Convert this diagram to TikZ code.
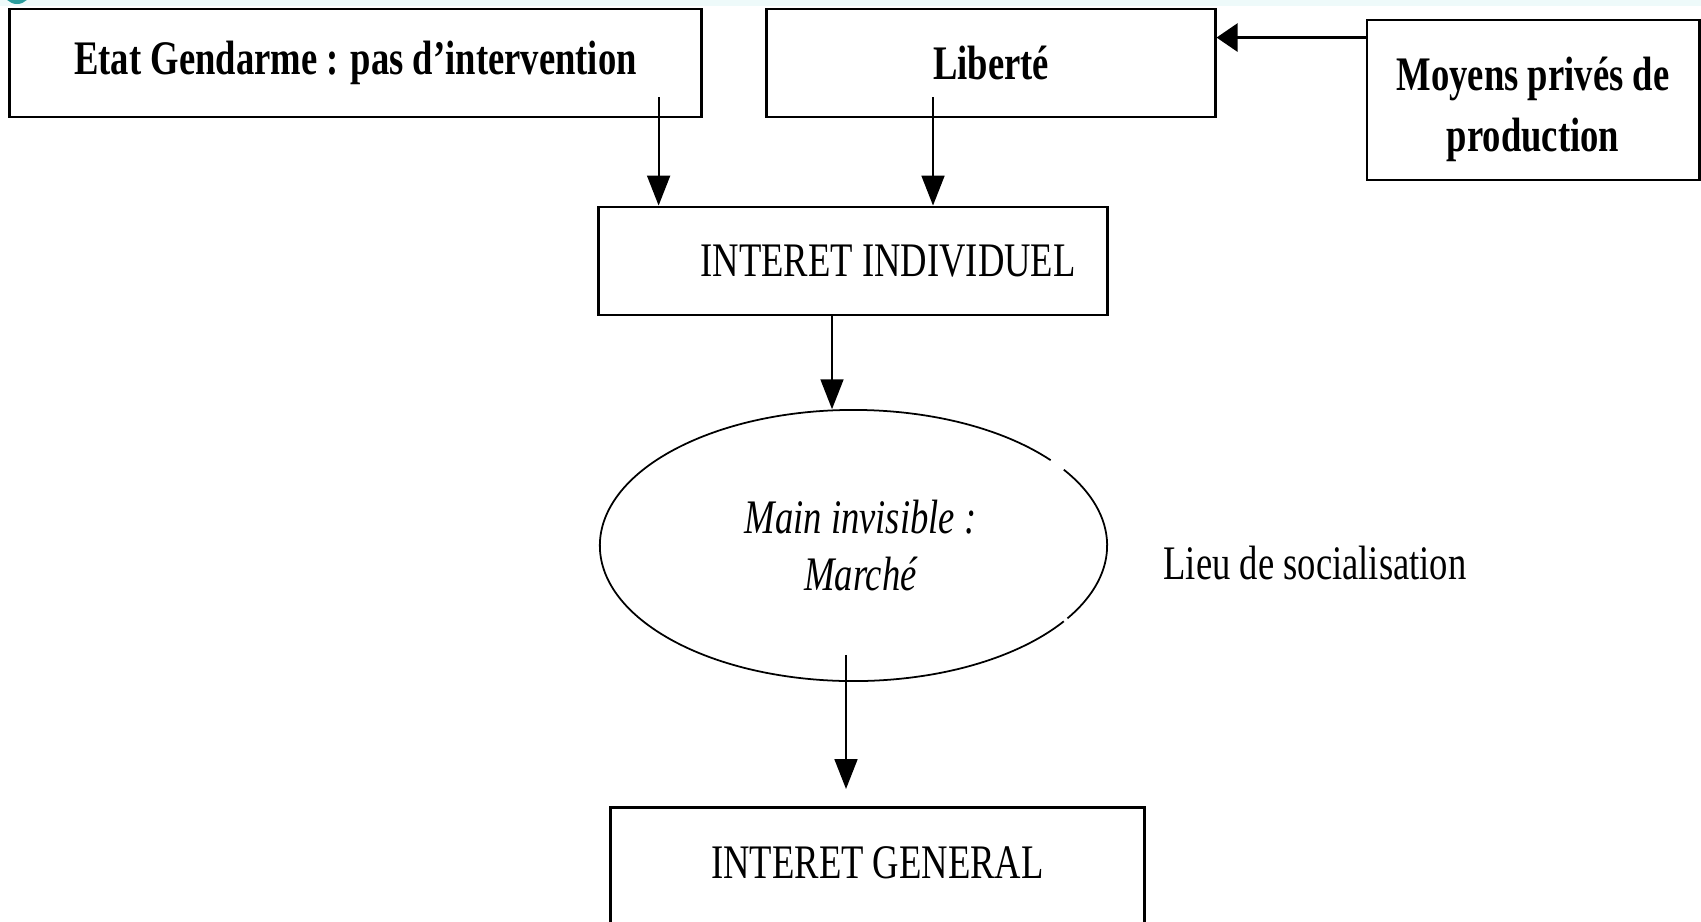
\documentclass[tikz,border=0pt]{standalone}
\usepackage{fontspec}
\setmainfont{Liberation Serif}[FakeStretch=0.76]
\usetikzlibrary{arrows.meta,calc,shapes.geometric}
\definecolor{bande}{HTML}{EEFAFA}
\definecolor{pastille}{HTML}{2A9D9D}
\newcommand\taille{\fontsize{13.7}{17.4}\selectfont}

\begin{document}
\begin{tikzpicture}[x=0.01cm, y=-0.01cm,
  >={Triangle[length=8.5pt,width=6.5pt]},
  box/.style={draw, rectangle, line width=0.8pt, inner sep=0pt, font=\taille},
  fleche/.style={->, line width=0.6pt},
  trait/.style={line width=0.5pt}]
\useasboundingbox (0,0) rectangle (1701,921);
\fill[bande] (0,0) rectangle (1701,6);
\fill[pastille] (17,-10) circle (0.14cm);

\node[box, minimum width=6.91cm, minimum height=1.08cm, font=\taille\bfseries] (etat) at (355.5,63) {Etat Gendarme : pas d’intervention};
\node[box, minimum width=4.48cm, minimum height=1.08cm, font=\taille\bfseries] (liberte) at (991,63) {Liberté};
\node[box, minimum width=3.32cm, minimum height=1.60cm, align=center, font=\taille\bfseries] (moyens) at (1533,100) {\rule{0pt}{0.53cm}Moyens privés de\\production};
\node[box, minimum width=5.08cm, minimum height=1.08cm] (indiv) at (853,261) {\hspace*{0.7cm}INTERET INDIVIDUEL};
\node[ellipse, inner sep=0pt, minimum width=5.07cm, minimum height=2.71cm, align=center, font=\fontsize{13.7}{16.2}\selectfont\itshape] (marche) at (853.5,545.5) {\hspace*{0.14cm}Main invisible :\\\hspace*{0.14cm}Marché};
\node[font=\taille] (lieu) at (1315,563) {Lieu de socialisation};
\node[box, anchor=north, minimum width=5.33cm, text height=0.71cm, text depth=0.5cm] (general) at (877.5,806) {INTERET GENERAL};

\draw[trait] ($(marche.center)+(39:2.535cm and 1.355cm)$) arc[start angle=39, end angle=326, x radius=2.535cm, y radius=1.355cm];
\draw[trait] ($(marche.center)+(-32.5:2.535cm and 1.355cm)$) arc[start angle=-32.5, end angle=34, x radius=2.535cm, y radius=1.355cm];

\draw[fleche] ($(etat.south east)+(-44,-21)$) coordinate (a1) -- (a1 |- indiv.north);
\draw[fleche] ($(liberte.south)+(-58,-21)$) coordinate (a2) -- (a2 |- indiv.north);
\draw[->, >={Triangle[length=6pt,width=8pt]}, line width=0.8pt] ($(moyens.north west)+(0,19)$) coordinate (a3) -- (a3 -| liberte.east);
\draw[fleche] ($(indiv.south)+(-21,0)$) coordinate (a4) -- (a4 |- marche.north);
\draw[fleche, shorten >=0.17cm] ($(marche.south)+(-7.5,-27)$) coordinate (a5) -- (a5 |- general.north);
\end{tikzpicture}
\end{document}
